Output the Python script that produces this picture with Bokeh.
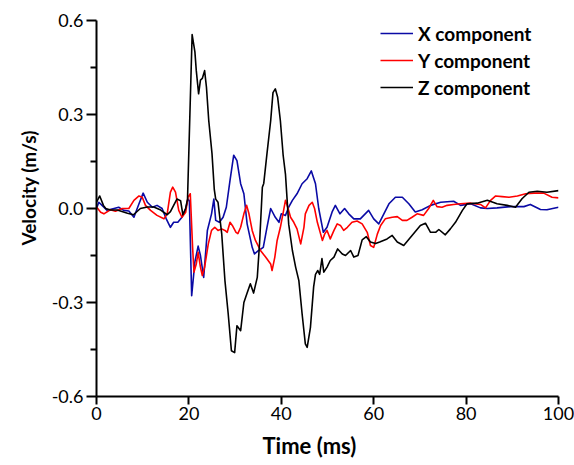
from bokeh.plotting import figure
from bokeh.models import Range1d, FixedTicker, PrintfTickFormatter, Legend, LegendItem, Title
from bokeh.embed import file_html
from bokeh.resources import INLINE

# ---- data ----
t_x = [0, 0.5, 1.2, 2.3, 3.8, 4.8, 5.9, 7.0, 8.1, 9.2, 10.1, 11.0, 12.1, 13.1, 14.2, 15.1, 16.0, 16.7,
       17.6, 18.5, 19.3, 19.8, 20.1, 20.6, 21.3, 22.0, 22.5, 23.2, 24.0, 24.9, 25.4, 25.8, 26.6, 27.4,
       28.1, 28.9, 29.7, 30.4, 31.2, 31.9, 32.6, 33.7, 34.2, 35.1, 36.1, 36.9, 37.7, 38.7, 39.5, 40.0,
       40.9, 41.6, 42.4, 43.4, 44.5, 45.6, 46.5, 47.4, 48.1, 49.1, 49.9, 51.0, 51.7, 52.7, 53.7, 54.6,
       55.7, 57.1, 58.9, 60.0, 61.1, 62.2, 63.3, 64.7, 66.2, 67.6, 69.0, 70.5, 72.3, 74.5, 77.3, 78.8,
       81.0, 83.1, 84.6, 86.7, 89.6, 92.5, 93.9, 96.1, 97.5, 100]
v_x = [0.0, 0.02, 0.01, -0.006, 0.0, 0.004, -0.006, -0.008, -0.028, 0.015, 0.049, 0.02, 0.004, 0.01,
       0.0, -0.033, -0.06, -0.044, -0.044, -0.028, 0.0, 0.03, 0.025, -0.278, -0.17, -0.12, -0.15, -0.22,
       -0.07, -0.017, 0.03, -0.038, -0.044, -0.028, 0.004, 0.09, 0.17, 0.153, 0.079, 0.047, -0.049,
       -0.124, -0.145, -0.134, -0.124, -0.06, 0.0, -0.028, -0.044, -0.017, -0.022, 0.004, 0.026, 0.047,
       0.079, 0.095, 0.12, 0.079, 0.0, -0.076, -0.06, -0.011, 0.01, -0.017, 0.0, -0.017, -0.033, -0.033,
       -0.006, -0.033, -0.049, -0.017, 0.015, 0.036, 0.036, 0.015, -0.011, -0.004, 0.01, 0.02, 0.023,
       0.01, 0.015, 0.002, 0.0, 0.002, 0.006, 0.006, 0.013, -0.003, -0.004, 0.004]

t_y = [0, 0.9, 1.6, 3.0, 4.1, 5.6, 7.0, 8.1, 9.2, 9.9, 10.6, 11.7, 13.1, 14.6, 15.3, 16.0, 16.5, 17.1,
       17.8, 18.5, 19.3, 19.8, 20.3, 20.8, 21.1, 21.6, 22.0, 22.5, 22.9, 23.4, 24.2, 24.9, 25.6, 26.3,
       27.1, 27.8, 28.3, 28.9, 29.4, 30.2, 30.6, 31.2, 31.9, 32.5, 33.0, 33.7, 34.4, 35.5, 36.6, 37.7,
       38.0, 38.6, 39.1, 39.8, 40.5, 40.9, 41.4, 42.0, 42.7, 43.4, 44.2, 44.9, 45.2, 46.0, 46.7, 47.2,
       47.8, 48.5, 48.9, 49.4, 49.9, 50.6, 51.4, 52.1, 52.8, 53.5, 54.3, 55.3, 56.4, 57.5, 58.6, 59.3,
       60.0, 60.8, 61.5, 62.5, 64.0, 65.1, 66.2, 67.2, 68.3, 69.4, 70.8, 71.9, 72.9, 73.7, 74.8, 75.9,
       77.3, 78.8, 81.0, 83.1, 84.2, 85.3, 86.4, 87.8, 89.3, 91.1, 92.9, 94.7, 96.8, 98.6, 100]
v_y = [0.005, -0.012, -0.017, -0.004, -0.009, 0.0, 0.0, 0.026, 0.04, 0.036, 0.01, -0.006, -0.022,
       -0.033, -0.017, 0.052, 0.068, 0.052, -0.006, -0.028, -0.012, 0.036, 0.047, -0.124, -0.203,
       -0.177, -0.14, -0.187, -0.214, -0.187, -0.113, -0.07, -0.06, -0.07, -0.065, -0.07, -0.076,
       -0.044, -0.054, -0.076, -0.08, -0.06, -0.017, 0.01, -0.017, -0.07, -0.102, -0.134, -0.155,
       -0.177, -0.198, -0.155, -0.102, -0.06, -0.006, 0.026, 0.004, -0.028, -0.044, -0.065, -0.113,
       -0.06, -0.017, 0.01, 0.02, 0.0, -0.044, -0.081, -0.102, -0.081, -0.07, -0.097, -0.07, -0.049,
       -0.054, -0.07, -0.06, -0.044, -0.04, -0.049, -0.076, -0.118, -0.124, -0.081, -0.054, -0.033,
       -0.028, -0.026, -0.038, -0.038, -0.028, -0.017, -0.022, 0.0, 0.026, 0.006, 0.004, 0.01, 0.013,
       0.015, 0.017, 0.013, 0.002, 0.026, 0.04, 0.038, 0.036, 0.04, 0.047, 0.049, 0.049, 0.036, 0.034]

t_z = [0, 0.7, 1.5, 2.0, 3.0, 4.5, 6.7, 8.0, 9.5, 11.0, 12.4, 13.9, 15.3, 16.0, 16.7, 17.4, 18.2, 18.7,
       19.3, 19.7, 20.7, 21.3, 21.6, 22.1, 22.5, 22.9, 23.4, 23.8, 24.3, 25.0, 25.5, 25.8, 26.3, 27.1,
       27.8, 28.5, 29.2, 29.9, 30.4, 31.2, 31.9, 32.6, 33.3, 34.0, 34.8, 35.3, 35.9, 36.2, 36.9, 37.7,
       38.2, 38.7, 39.2, 39.8, 40.4, 40.9, 41.6, 42.4, 43.1, 43.8, 44.5, 45.2, 45.6, 46.3, 47.0, 47.4,
       47.9, 48.3, 48.8, 49.2, 49.9, 50.6, 51.4, 52.2, 53.2, 53.9, 55.0, 55.7, 56.6, 57.5, 58.4, 59.3,
       60.4, 61.3, 62.9, 64.0, 65.1, 66.5, 68.3, 70.1, 71.2, 72.3, 73.4, 74.1, 75.5, 76.6, 77.7, 79.2,
       80.2, 82.4, 84.6, 86.7, 88.9, 90.7, 92.1, 93.6, 95.4, 97.5, 100]
v_z = [0.02, 0.04, 0.01, 0.0, -0.005, -0.005, -0.015, -0.02, 0.0, 0.005, 0.005, -0.005, -0.02, -0.01,
       0.01, 0.03, 0.025, -0.02, 0.0, 0.03, 0.555, 0.50, 0.44, 0.366, 0.41, 0.415, 0.44, 0.387, 0.28,
       0.175, 0.06, 0.03, 0.02, -0.08, -0.23, -0.335, -0.454, -0.46, -0.374, -0.39, -0.30, -0.27,
       -0.24, -0.27, -0.22, -0.11, 0.068, 0.08, 0.175, 0.28, 0.37, 0.382, 0.356, 0.28, 0.17, 0.11,
       -0.05, -0.134, -0.187, -0.23, -0.336, -0.432, -0.443, -0.38, -0.25, -0.21, -0.198, -0.21, -0.16,
       -0.203, -0.187, -0.166, -0.155, -0.129, -0.145, -0.15, -0.134, -0.155, -0.15, -0.10, -0.09,
       -0.107, -0.112, -0.107, -0.097, -0.086, -0.107, -0.118, -0.086, -0.054, -0.047, -0.076, -0.076,
       -0.067, -0.084, -0.065, -0.044, -0.006, 0.015, 0.017, 0.026, 0.015, 0.01, 0.004, 0.031, 0.052,
       0.055, 0.052, 0.057]

series_names = ["X component", "Y component", "Z component"]
series_colors = ["#0A0AA5", "#FF0000", "#000000"]
x_ticks = [0, 20, 40, 60, 80, 100]
y_ticks = [-0.6, -0.3, 0.0, 0.3, 0.6]
y_minor = [-0.45, -0.15, 0.15, 0.45]
x_label = "Time (ms)"
y_label = "Velocity (m/s)"

FONT = "Lato"

p = figure(width=574, height=465, output_backend="svg", toolbar_location=None,
           x_range=Range1d(0, 100), y_range=Range1d(-0.6, 0.6),
           min_border_left=96, min_border_right=16, min_border_top=20, min_border_bottom=69)
p.outline_line_color = None
p.xgrid.visible = False
p.ygrid.visible = False
p.background_fill_color = "white"
p.border_fill_color = "white"

renderers = []
for tx, vx, c in [(t_x, v_x, series_colors[0]), (t_y, v_y, series_colors[1]), (t_z, v_z, series_colors[2])]:
    r = p.line(tx, vx, line_color=c, line_width=1.6, line_join="round")
    renderers.append(r)

# axes
xa = p.xaxis[0]
ya = p.yaxis[0]
xa.ticker = FixedTicker(ticks=x_ticks)
ya.ticker = FixedTicker(ticks=y_ticks, minor_ticks=y_minor)
ya.formatter = PrintfTickFormatter(format="%.1f")
for ax in (xa, ya):
    ax.axis_line_width = 2
    ax.axis_line_color = "black"
    ax.major_tick_line_width = 2
    ax.major_tick_line_color = "black"
    ax.minor_tick_line_width = 2
    ax.major_tick_in = 0
    ax.minor_tick_in = 0
    ax.major_label_text_font = FONT
    ax.major_label_text_font_size = "18px"
    ax.major_label_text_color = "black"

xa.major_tick_out = 8
xa.minor_tick_line_color = None
xa.major_label_standoff = 2

ya.major_tick_out = 10
ya.minor_tick_out = 6
ya.minor_tick_line_color = "black"
ya.major_label_standoff = 3

# axis titles (offset like in the reference)
p.add_layout(Title(text=x_label, align="left", offset=166, standoff=14,
                   text_font=FONT, text_font_style="bold", text_font_size="22px",
                   text_color="black"), "below")
p.add_layout(Title(text=y_label, align="left", offset=151, standoff=17,
                   text_font=FONT, text_font_style="bold", text_font_size="19px",
                   text_color="black"), "left")

legend = Legend(items=[LegendItem(label=n, renderers=[r]) for n, r in zip(series_names, renderers)],
                location=(284, 297), orientation="vertical",
                glyph_width=33, glyph_height=24, label_height=24, label_width=115, spacing=3,
                label_standoff=5, padding=0, margin=0,
                border_line_color=None, background_fill_alpha=0,
                label_text_font=FONT, label_text_font_style="bold",
                label_text_font_size="19px", label_text_color="black")
p.add_layout(legend)

open("out.html", "w").write(file_html(p, INLINE))
